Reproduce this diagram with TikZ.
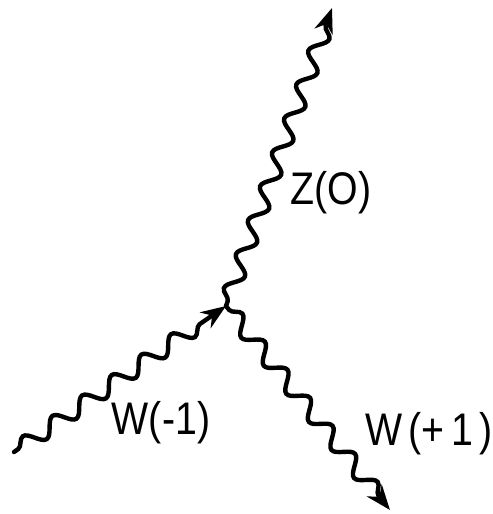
\documentclass[tikz,border=0pt]{standalone}
\usepackage{fontspec}
\setmainfont{Liberation Sans}
\usetikzlibrary{decorations.pathmorphing,arrows.meta}
\begin{document}
\begin{tikzpicture}[x=0.02cm,y=-0.02cm,
  boson/.style={line width=2.5pt, line cap=round, decorate,
    decoration={snake, amplitude=0.16cm, segment length=0.72cm, pre length=0.1cm, post length=0.35cm}},
  tip/.style={-{Stealth[length=0.5cm,width=0.38cm]}},
  lbl/.style={inner sep=0pt}]
\useasboundingbox (0,0) rectangle (493,514);
\coordinate (T) at (332,8);
\coordinate (V) at (226,306);
\coordinate (L) at (14,452);
\coordinate (B) at (390,510);
\draw[boson, tip] (V) -- (T);
\draw[boson, tip] (L) -- (V);
\draw[boson, tip] (V) -- (B);
\node[lbl] (z) at (331,193) {\scalebox{0.86}[1]{\fontsize{26}{30}\selectfont Z(O)}};
\node[lbl] (wm) at (161,423) {\scalebox{0.86}[1]{\fontsize{26}{30}\selectfont W(-1)}};
\node[lbl] (wp) at (429,434) {\scalebox{0.86}[1]{\fontsize{26}{30}\selectfont W\,(+\,1\,)}};
\end{tikzpicture}
\end{document}
